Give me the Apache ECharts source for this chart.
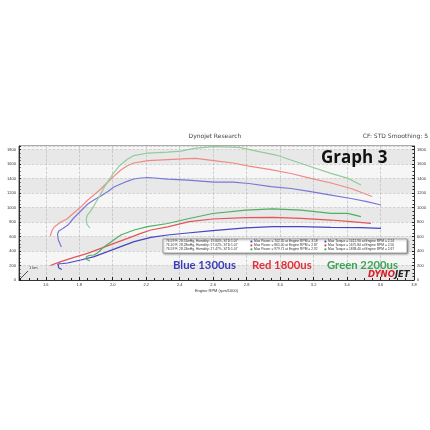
<!DOCTYPE html>
<html><head><meta charset="utf-8">
<script src="https://cdn.jsdelivr.net/npm/echarts@6/dist/echarts.min.js"></script>
<style>html,body{margin:0;padding:0;background:#fff}#c{width:430px;height:430px}</style>
</head><body><div id="c"></div>
<script>
// Engine RPM (x1000) and values
const blueTorqueRpm = [1.693,1.675,1.670,1.678,1.702,1.732,1.767,1.809,1.851,1.887,1.929,1.971,2.007,2.048,2.090,2.126,2.168,2.210,2.329,2.449,2.604,2.718,2.814,2.945,3.065,3.184,3.304,3.424,3.519,3.603];
const blueTorque    = [455,552,635,676,711,759,856,952,1049,1104,1159,1221,1283,1325,1366,1394,1408,1415,1394,1380,1352,1352,1332,1290,1263,1221,1173,1125,1083,1035];
const redTorqueRpm  = [1.627,1.636,1.650,1.690,1.726,1.767,1.809,1.851,1.887,1.929,1.965,2.001,2.048,2.090,2.126,2.210,2.329,2.449,2.497,2.604,2.718,2.814,2.945,3.065,3.184,3.304,3.424,3.549];
const redTorque     = [607,676,731,800,842,925,1007,1104,1173,1256,1339,1421,1518,1580,1615,1649,1663,1677,1679,1649,1615,1573,1525,1470,1403,1339,1263,1152];
const greenTorqueRpm= [1.863,1.845,1.842,1.848,1.863,1.887,1.911,1.929,1.953,1.977,2.007,2.036,2.066,2.090,2.126,2.210,2.329,2.407,2.485,2.599,2.754,2.874,2.976,3.065,3.184,3.304,3.406,3.483];
const greenTorque   = [718,773,842,897,938,1021,1118,1187,1297,1380,1484,1566,1628,1670,1718,1753,1766,1780,1817,1842,1831,1773,1725,1656,1564,1472,1403,1311];
const bluePowerRpm  = [1.696,1.678,1.669,1.672,1.702,1.730,1.809,1.889,1.969,2.048,2.128,2.228,2.328,2.447,2.597,2.796,2.956,3.125,3.304,3.483,3.603];
const bluePower     = [145,166,193,221,228,235,276,322,391,460,529,589,621,649,683,720,736,738,727,722,713];
const redPowerRpm   = [1.627,1.690,1.769,1.849,1.929,2.008,2.089,2.168,2.228,2.328,2.457,2.597,2.796,2.956,3.125,3.304,3.424,3.543];
const redPower      = [200,253,313,368,437,506,575,644,690,734,805,842,860,865,851,828,805,782];
const greenPowerRpm = [1.863,1.845,1.842,1.857,1.887,1.909,1.949,1.989,2.048,2.128,2.208,2.328,2.457,2.597,2.796,2.956,3.125,3.304,3.404,3.483];
const greenPower    = [262,283,317,338,345,373,460,524,621,690,738,780,849,918,966,983,966,920,920,874];

const legendTexts = ['Blue 1300us','Red 1800us','Green 2200us'];
const infoRows = [
  ['76.59°F, 28.51inHg, Humidity: 19.84%, STD:1.07','Max Power = 742.35 at Engine RPM = 3.18','Max Torque = 1412.90 at Engine RPM = 2.24'],
  ['76.10°F, 28.28inHg, Humidity: 27.02%, STD:1.07','Max Power = 865.00 at Engine RPM = 2.87','Max Torque = 1675.84 at Engine RPM = 2.50'],
  ['76.59°F, 28.24inHg, Humidity: 27.47%, STD:1.07','Max Power = 979.71 at Engine RPM = 2.92','Max Torque = 1838.40 at Engine RPM = 2.67']
];

const pair = (xs, ys) => xs.map((x, i) => [x, ys[i]]);
const C = {blueT:'#7a78d6', redT:'#ee8a86', greenT:'#92cc98', blueP:'#4645c2', redP:'#e2545a', greenP:'#4fb062'};
const rowColors = ['#3a3ac0','#e03030','#30a040'];

function line(name, data, color, yIdx) {
  return {name, type:'line', data, yAxisIndex:yIdx, showSymbol:false, symbol:'none', smooth:false,
    lineStyle:{color, width:1.2}, itemStyle:{color}, animation:false, z:3};
}

const chart = echarts.init(document.getElementById('c'), null, {renderer:'canvas'});
const axisLabelY = {fontSize:4, color:'#333', showMaxLabel:false, margin:3, formatter:v=>String(v)};
const graphics = [
  {type:'text', left:'center', top:133, style:{text:'Dynojet Research', fontSize:6, fill:'#444', fontFamily:'DejaVu Sans'}},
  {type:'text', right:2, top:133, style:{text:'CF: STD Smoothing: 5', fontSize:6, fill:'#444', fontFamily:'DejaVu Sans'}},
  {type:'text', x:321, y:150, style:{text:'Graph 3', fontSize:17, fontWeight:'bold', fill:'#111', fontFamily:'Open Sans'}, z:10},
  {type:'rect', shape:{x:163, y:239, width:244, height:14}, style:{fill:'#fff', stroke:'#777', lineWidth:0.6, shadowBlur:2, shadowColor:'rgba(0,0,0,0.4)', shadowOffsetX:1, shadowOffsetY:1}, z:10},
  {type:'text', x:173, y:259.5, style:{text:legendTexts[0], fontSize:11.3, fontWeight:'bold', fill:'#3b3bb8', fontFamily:'Lato'}, z:10},
  {type:'text', x:252, y:259.5, style:{text:legendTexts[1], fontSize:11.3, fontWeight:'bold', fill:'#e03038', fontFamily:'Lato'}, z:10},
  {type:'text', x:327, y:259.5, style:{text:legendTexts[2], fontSize:11.3, fontWeight:'bold', fill:'#3aa452', fontFamily:'Lato'}, z:10},
  {type:'text', x:368, y:270, style:{text:'{a|DYNO}{b|JET}', rich:{a:{fontSize:8.5, fontWeight:'bold', fontStyle:'italic', fill:'#d8202a', fontFamily:'DejaVu Sans'}, b:{fontSize:8.5, fontWeight:'bold', fontStyle:'italic', fill:'#222', fontFamily:'DejaVu Sans'}}}, z:10},
  {type:'line', shape:{x1:21, y1:278, x2:28, y2:271}, style:{stroke:'#222', lineWidth:0.8}, z:10},
  {type:'text', x:29, y:266, style:{text:'1 km', fontSize:4, fill:'#333'}, z:10}
];
infoRows.forEach((r, i) => {
  const y = 240 + i * 3.9;
  graphics.push({type:'text', x:166, y, style:{text:r[0], fontSize:3.3, fill:'#333'}, z:11});
  graphics.push({type:'rect', shape:{x:250.5, y:y+0.6, width:1.8, height:1.8}, style:{fill:rowColors[i]}, z:11});
  graphics.push({type:'text', x:254, y, style:{text:r[1], fontSize:3.3, fill:'#333'}, z:11});
  graphics.push({type:'rect', shape:{x:324.5, y:y+0.6, width:1.8, height:1.8}, style:{fill:rowColors[i]}, z:11});
  graphics.push({type:'text', x:328, y, style:{text:r[2], fontSize:3.3, fill:'#333'}, z:11});
});

chart.setOption({
  backgroundColor:'#ffffff',
  animation:false,
  grid:{left:19, right:16, top:146, bottom:150, containLabel:false, outerBoundsMode:'none', show:true, borderColor:'#555', borderWidth:1, backgroundColor:'#f4f4f4'},
  xAxis:{type:'value', min:1.44, max:3.8, splitNumber:12, minInterval:0.2, maxInterval:0.2,
    name:'Engine RPM (rpm/1000)', nameLocation:'middle', nameGap:9, nameTextStyle:{fontSize:4, color:'#333'},
    axisLine:{show:true, lineStyle:{color:'#333'}}, axisTick:{show:true, length:3, inside:true, lineStyle:{color:'#222'}},
    minorTick:{show:true, splitNumber:4, length:2, lineStyle:{color:'#222'}},
    axisLabel:{fontSize:4, color:'#333', margin:3, showMinLabel:false, formatter:v=>v.toFixed(1)},
    splitLine:{show:true, lineStyle:{color:'#bdbdbd', type:'dashed', width:0.7}}},
  yAxis:[
    {type:'value', min:0, max:1850, interval:200, position:'left',
     name:'Power (hp)', nameLocation:'middle', nameGap:12, nameRotate:90, nameTextStyle:{fontSize:4, color:'#333'},
     axisLine:{show:true, lineStyle:{color:'#333'}}, axisTick:{show:true, length:2, inside:true, lineStyle:{color:'#222'}},
     minorTick:{show:true, splitNumber:4, length:1.5, lineStyle:{color:'#222'}},
     axisLabel:axisLabelY,
     splitLine:{show:true, lineStyle:{color:'#c4c4c4', type:'dashed', width:0.7}},
     splitArea:{show:true, areaStyle:{color:['#e8e8e8','#f6f6f6']}}},
    {type:'value', min:0, max:1850, interval:200, position:'right',
     name:'Torque (lb-ft)', nameLocation:'middle', nameGap:12, nameRotate:90, nameTextStyle:{fontSize:4, color:'#333'},
     axisLine:{show:true, lineStyle:{color:'#333'}}, axisTick:{show:true, length:2, inside:true, lineStyle:{color:'#222'}},
     minorTick:{show:true, splitNumber:4, length:1.5, lineStyle:{color:'#222'}},
     axisLabel:axisLabelY, splitLine:{show:false}}
  ],
  series:[
    line('Blue Torque', pair(blueTorqueRpm, blueTorque), C.blueT, 1),
    line('Red Torque', pair(redTorqueRpm, redTorque), C.redT, 1),
    line('Green Torque', pair(greenTorqueRpm, greenTorque), C.greenT, 1),
    line('Blue Power', pair(bluePowerRpm, bluePower), C.blueP, 0),
    line('Red Power', pair(redPowerRpm, redPower), C.redP, 0),
    line('Green Power', pair(greenPowerRpm, greenPower), C.greenP, 0)
  ],
  graphic:graphics
});
</script></body></html>
